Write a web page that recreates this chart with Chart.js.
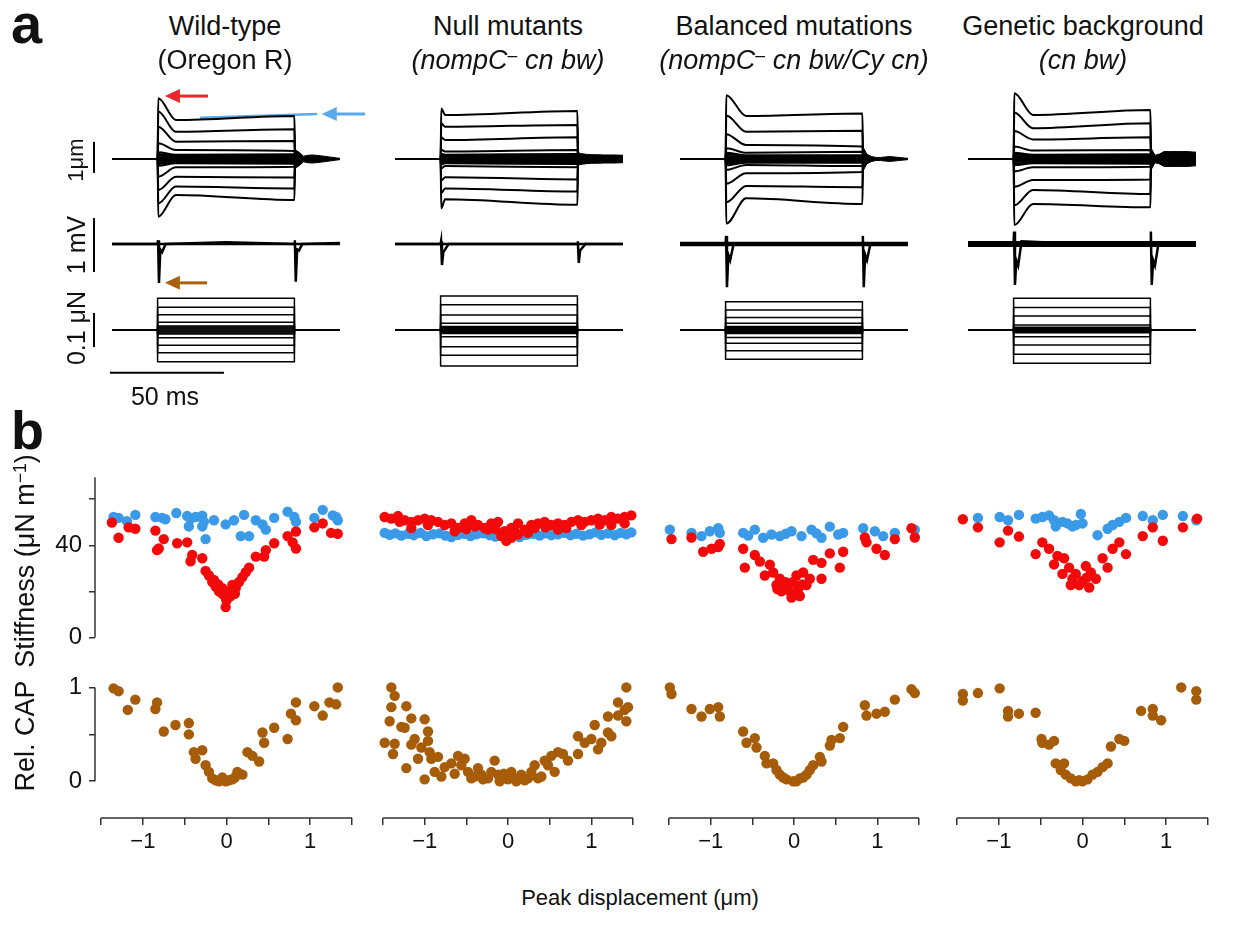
<!DOCTYPE html>
<html>
<head>
<meta charset="utf-8">
<script src="https://cdn.jsdelivr.net/npm/chart.js@4.4.1/dist/chart.umd.min.js"></script>
<style>
  body { margin: 0; background: #fff; font-family: 'Liberation Sans', Arial, sans-serif; }
  #fig { position: relative; width: 1235px; height: 927px; overflow: hidden; background: #fff; }
  #fig canvas { position: absolute; }
  .t { position: absolute; white-space: nowrap; color: #111; line-height: 1; transform: translate(-50%, -50%); }
  .rot { transform: translate(-50%, -50%) rotate(-90deg); }
  .it { font-style: italic; }
  sup { font-size: 65%; vertical-align: 0.45em; line-height: 0; }
  .lbl { position: absolute; font-weight: bold; line-height: 1; color: #111; }
</style>
</head>
<body>
<div id="fig"></div>
<script>
// ---------- panel a: column headers ----------
const colTitles = ['Wild-type', 'Null mutants', 'Balanced mutations', 'Genetic background'];
const colSubtitles = ['(Oregon R)', '(nompC<sup>–</sup> cn bw)', '(nompC<sup>–</sup> cn bw/Cy cn)', '(cn bw)'];

// ---------- panel a: traces (time in ms, displacement in um, voltage in mV, force in uN) ----------
const stepOn = 20, stepOff = 80, traceEnd = 100;
const earlyTime = [28, 22, 29, 28.5];
const dispPeak = [
  [1.96, 1.53, 1.04, 0.51, 0.22, 0.16, 0.11, 0.06, 0.02, -0.02, -0.06, -0.11, -0.16, -0.22, -0.57, -1.00, -1.43, -1.86],
  [1.63, 1.15, 0.70, 0.30, 0.17, 0.13, 0.09, 0.05, 0.02, -0.02, -0.05, -0.09, -0.13, -0.17, -0.30, -0.70, -1.10, -1.59],
  [2.06, 1.40, 0.80, 0.35, 0.20, 0.15, 0.10, 0.05, 0.02, -0.02, -0.05, -0.10, -0.15, -0.20, -0.35, -0.80, -1.40, -2.08],
  [2.12, 1.50, 0.90, 0.40, 0.20, 0.15, 0.10, 0.05, 0.02, -0.02, -0.05, -0.10, -0.15, -0.20, -0.40, -0.90, -1.50, -2.13]
];
const dispEarly = [
  [1.26, 0.88, 0.56, 0.29, 0.14, 0.11, 0.07, 0.04, 0.01, -0.01, -0.04, -0.07, -0.11, -0.14, -0.27, -0.57, -0.89, -1.16],
  [1.42, 1.04, 0.61, 0.24, 0.14, 0.11, 0.07, 0.04, 0.01, -0.01, -0.04, -0.07, -0.11, -0.14, -0.23, -0.59, -0.95, -1.30],
  [1.39, 0.88, 0.45, 0.20, 0.12, 0.09, 0.06, 0.03, 0.01, -0.01, -0.03, -0.06, -0.09, -0.12, -0.19, -0.46, -0.87, -1.27],
  [1.42, 0.99, 0.63, 0.27, 0.14, 0.11, 0.07, 0.04, 0.01, -0.01, -0.04, -0.07, -0.11, -0.14, -0.27, -0.68, -1.00, -1.45]
];
const dispFinal = [
  [1.39, 0.96, 0.58, 0.26, 0.15, 0.12, 0.08, 0.04, 0.01, -0.01, -0.04, -0.08, -0.12, -0.15, -0.25, -0.60, -0.95, -1.32],
  [1.55, 1.10, 0.70, 0.29, 0.16, 0.13, 0.09, 0.05, 0.02, -0.02, -0.05, -0.09, -0.13, -0.16, -0.27, -0.66, -1.05, -1.48],
  [1.47, 0.91, 0.40, 0.23, 0.12, 0.09, 0.06, 0.03, 0.01, -0.01, -0.03, -0.06, -0.09, -0.12, -0.23, -0.42, -0.91, -1.45],
  [1.58, 1.15, 0.70, 0.29, 0.15, 0.12, 0.08, 0.04, 0.01, -0.01, -0.04, -0.08, -0.12, -0.15, -0.25, -0.66, -1.13, -1.56]
];
// ringing after the step (half width of the envelope)
const ringTime = [80.3, 82, 84, 86, 88, 92, 96, 100];
const ringHalf = [
  [0.30, 0.22, 0.09, 0.12, 0.13, 0.10, 0.06, 0.02],
  [0.20, 0.17, 0.15, 0.14, 0.14, 0.13, 0.13, 0.12],
  [0.38, 0.15, 0.08, 0.05, 0.05, 0.08, 0.05, 0.02],
  [0.35, 0.12, 0.16, 0.24, 0.24, 0.24, 0.24, 0.22]
];
const voltTime = [0, 20, 20.2, 20.6, 21.2, 22, 23.5, 50, 80, 80.2, 80.6, 81.2, 82, 83.5, 100];
const voltVals = [
  [0, 0, 0.07, -0.72, -0.10, -0.15, 0, 0.03, 0, 0.07, -0.70, -0.10, -0.12, 0, 0.02],
  [0, 0, 0.05, -0.39, -0.15, -0.10, 0, 0, 0, 0.05, -0.35, -0.12, -0.08, 0, 0],
  [0, 0, 0.15, -0.80, -0.20, -0.30, 0, 0, 0, 0.15, -0.80, -0.20, -0.30, 0, 0],
  [0, 0, 0.23, -0.76, -0.30, -0.40, 0.05, 0, 0, 0.23, -0.76, -0.30, -0.40, 0, 0]
];
const forceLevels = [
  [0.093, 0.067, 0.045, 0.023, 0.012, 0.009, 0.006, 0.003, 0, -0.003, -0.006, -0.009, -0.012, -0.023, -0.045, -0.067, -0.093],
  [0.100, 0.074, 0.044, 0.020, 0.010, 0.007, 0.005, 0.002, 0, -0.002, -0.005, -0.007, -0.010, -0.020, -0.049, -0.074, -0.106],
  [0.083, 0.059, 0.037, 0.020, 0.010, 0.007, 0.005, 0.002, 0, -0.002, -0.005, -0.007, -0.010, -0.022, -0.039, -0.061, -0.086],
  [0.093, 0.066, 0.041, 0.015, 0.008, 0.006, 0.004, 0.002, 0, -0.002, -0.004, -0.006, -0.008, -0.020, -0.044, -0.071, -0.098]
];

// ---------- panel b: peak displacement (um) vs stiffness (uN/m) / relative CAP ----------
const wtRed = [[-1.37,49.9],[-1.29,43.3],[-1.17,47.8],[-1.09,47.2],[-0.85,46.4],[-0.75,42.7],[-0.81,38.6],[-0.83,37.9],
  [-0.59,40.9],[-0.47,41.3],[-0.41,35.8],[-0.43,33.1],[-0.29,34.4],[-0.25,28.9],[-0.21,26.9],[-0.17,24.1],[-0.13,22.1],
  [-0.09,20.0],[-0.05,21.4],[-0.01,17.3],[-0.01,13.2],[0.03,20.0],[0.07,22.8],[0.11,21.4],[0.15,24.1],[0.19,26.2],
  [0.23,28.3],[0.27,30.3],[0.35,35.1],[0.45,35.1],[0.47,37.9],[0.57,40.9],[0.73,44.0],[0.83,46.0],[0.83,38.6],
  [0.79,41.3],[1.05,47.8],[1.15,49.5],[1.25,45.4],[1.33,45.0],[-0.15,25.0],[-0.10,23.0],[0.05,18.0],[0.00,16.0],
  [0.10,19.0],[-0.05,19.0]];
const wtBlue = [[-1.35,52.3],[-1.29,51.9],[-1.19,50.5],[-1.09,53.2],[-0.85,52.3],[-0.77,51.9],[-0.73,51.3],[-0.60,54.0],
  [-0.47,52.7],[-0.43,51.6],[-0.37,52.3],[-0.45,48.2],[-0.29,52.9],[-0.27,50.2],[-0.29,48.2],[-0.15,50.9],[-0.25,42.7],
  [-0.01,49.1],[0.09,50.9],[0.21,53.2],[0.17,44.0],[0.27,44.0],[0.35,50.9],[0.43,49.1],[0.47,46.8],[0.57,51.9],
  [0.73,54.6],[0.81,52.3],[0.83,50.2],[1.05,51.9],[1.15,55.4],[1.27,53.0],[1.33,50.9],[1.31,52.3]];
const wtCap = [[-1.35,0.99],[-1.29,0.96],[-1.09,0.87],[-1.18,0.76],[-0.83,0.84],[-0.85,0.77],[-0.75,0.53],[-0.61,0.60],
  [-0.45,0.62],[-0.45,0.50],[-0.39,0.31],[-0.29,0.33],[-0.37,0.24],[-0.25,0.17],[-0.21,0.10],[-0.17,0.03],[-0.09,0.00],
  [-0.01,0.00],[0.07,0.02],[0.13,0.10],[0.19,0.07],[0.25,0.31],[0.31,0.27],[0.39,0.21],[0.43,0.52],[0.45,0.41],
  [0.57,0.57],[0.73,0.45],[0.83,0.84],[0.77,0.72],[0.83,0.65],[1.05,0.80],[1.15,0.70],[1.23,0.84],[1.31,0.82],[1.33,1.00],
  [-0.13,0.01],[0.03,0.01],[-0.05,0.04],[0.10,0.04]];

const nullRed = [[-1.48,52.3],[-1.40,51.6],[-1.32,52.7],[-1.24,50.9],[-1.16,50.2],[-1.08,50.9],[-1.00,51.6],[-0.92,50.9],
  [-0.84,50.2],[-0.76,48.8],[-0.68,49.5],[-0.60,47.5],[-0.52,49.5],[-0.44,50.9],[-0.36,48.8],[-0.28,47.5],[-0.20,49.5],
  [-0.12,50.2],[-0.04,46.1],[0.04,47.5],[0.12,49.5],[0.20,46.8],[0.28,48.8],[0.36,49.5],[0.44,50.2],[0.52,48.8],
  [0.60,49.5],[0.68,48.8],[0.76,50.2],[0.84,50.9],[0.92,50.2],[1.00,50.9],[1.08,51.6],[1.16,50.9],[1.24,52.3],
  [1.32,51.6],[1.40,52.3],[1.48,53.0],[-1.16,47.5],[-0.96,48.8],[-0.64,46.1],[-0.40,48.2],[-0.24,46.8],[-0.08,44.0],
  [-0.02,41.9],[0.04,43.3],[0.12,44.7],[0.24,45.4],[0.32,47.5],[0.60,46.8],[0.88,48.8],[1.24,48.8],[1.40,49.5],
  [-1.30,50.2],[-0.50,47.0],[0.00,45.0],[0.08,46.0],[-0.15,47.0],[0.45,47.8],[0.70,47.5],[1.10,49.0]];
const nullBlue = [[-1.48,45.4],[-1.42,44.6],[-1.35,45.2],[-1.28,44.2],[-1.20,45.0],[-1.13,44.4],[-1.05,45.4],[-0.98,44.0],
  [-0.90,44.8],[-0.82,45.2],[-0.75,44.2],[-0.68,43.6],[-0.60,44.6],[-0.52,45.0],[-0.45,44.0],[-0.38,44.8],[-0.30,45.2],
  [-0.22,44.4],[-0.15,43.8],[-0.08,44.6],[0.00,43.4],[0.07,44.2],[0.14,43.6],[0.22,44.6],[0.30,45.0],[0.38,44.2],
  [0.45,45.2],[0.52,44.4],[0.60,44.8],[0.68,45.4],[0.75,44.4],[0.82,45.0],[0.90,44.2],[0.98,44.8],[1.05,45.6],
  [1.12,44.6],[1.20,45.2],[1.28,44.4],[1.35,45.4],[1.42,44.8],[1.48,45.6]];
const nullCap = [[-1.40,1.00],[-1.36,0.91],[-1.40,0.79],[-1.22,0.80],[-1.42,0.64],[-1.16,0.67],[-1.00,0.66],[-1.28,0.58],
  [-1.24,0.57],[-1.48,0.41],[-1.36,0.40],[-1.38,0.29],[-1.22,0.14],[-1.16,0.39],[-1.12,0.45],[-1.04,0.36],[-0.96,0.53],
  [-0.96,0.43],[-0.94,0.31],[-1.08,0.24],[-0.92,0.24],[-0.84,0.26],[-1.00,0.02],[-0.88,0.10],[-0.76,0.15],[-0.68,0.19],
  [-0.60,0.27],[-0.56,0.17],[-0.48,0.10],[-0.44,0.03],[-0.52,0.24],[-0.36,0.14],[-0.32,0.07],[-0.24,0.03],[-0.16,0.22],
  [-0.20,0.10],[-0.12,0.07],[-0.04,0.03],[0.04,0.10],[0.08,0.03],[0.16,0.07],[0.24,0.03],[0.28,0.10],[0.36,0.03],
  [0.32,0.17],[0.44,0.22],[0.48,0.17],[0.52,0.27],[0.60,0.31],[0.66,0.29],[0.72,0.22],[0.84,0.29],[0.84,0.48],
  [0.92,0.41],[1.00,0.45],[1.04,0.60],[1.08,0.34],[1.12,0.41],[1.20,0.52],[1.24,0.48],[1.20,0.69],[1.32,0.70],
  [1.32,0.84],[1.40,0.76],[1.42,0.64],[1.44,0.79],[1.42,1.00],[-0.30,0.02],[-0.10,0.00],[0.00,0.02],[0.10,0.00],
  [0.20,0.01],[-0.40,0.05],[0.05,0.05],[-0.05,0.08],[0.40,0.05],[-0.64,0.08],[-0.80,0.05],[0.56,0.10]];

const balRed = [[-1.47,42.7],[-1.23,43.4],[-1.09,37.2],[-0.99,38.5],[-0.89,40.6],[-0.91,39.2],[-0.61,38.5],[-0.59,30.3],
  [-0.47,35.8],[-0.41,33.0],[-0.35,26.9],[-0.29,31.6],[-0.25,28.2],[-0.21,22.8],[-0.17,25.5],[-0.09,22.8],[-0.03,17.3],
  [-0.01,24.1],[0.03,26.9],[0.11,28.2],[0.15,22.8],[0.19,25.5],[0.23,33.7],[0.33,32.4],[0.33,25.5],[0.43,36.5],
  [0.55,30.3],[0.59,37.2],[0.85,43.4],[0.87,41.3],[0.99,38.5],[1.09,35.8],[1.21,42.7],[1.41,47.4],[1.45,43.4],
  [-0.15,20.0],[-0.05,20.0],[0.05,21.0],[0.00,19.0],[-0.10,24.0],[0.10,23.0],[-0.20,21.0],[0.07,18.0]];
const balBlue = [[-1.49,46.8],[-1.23,45.4],[-1.11,44.0],[-1.01,46.1],[-0.91,47.4],[-0.89,45.4],[-0.61,45.4],[-0.47,46.8],
  [-0.37,43.3],[-0.27,44.7],[-0.17,44.0],[-0.03,46.1],[0.09,44.0],[0.21,46.8],[0.33,43.3],[0.43,48.1],[0.53,44.7],
  [0.59,45.4],[0.83,47.4],[0.97,46.1],[1.07,44.0],[1.21,45.4],[1.45,46.8],[-0.55,44.2],[-0.10,45.0],[0.27,45.2]];
const balCap = [[-1.49,1.00],[-1.47,0.93],[-1.23,0.77],[-1.11,0.69],[-1.01,0.77],[-0.91,0.79],[-0.89,0.69],[-0.61,0.53],
  [-0.57,0.41],[-0.47,0.46],[-0.45,0.36],[-0.35,0.27],[-0.33,0.19],[-0.25,0.19],[-0.21,0.12],[-0.17,0.07],[-0.09,0.02],
  [-0.01,0.00],[0.07,0.03],[0.15,0.07],[0.19,0.12],[0.23,0.17],[0.31,0.26],[0.33,0.21],[0.43,0.38],[0.45,0.44],
  [0.55,0.46],[0.59,0.58],[0.85,0.81],[0.87,0.70],[0.99,0.72],[1.09,0.74],[1.21,0.87],[1.41,0.98],[1.45,0.94],
  [-0.13,0.04],[0.03,0.00],[0.11,0.04]];

const bgRed = [[-1.43,51.3],[-1.25,47.8],[-0.99,41.3],[-0.89,46.4],[-0.76,43.8],[-0.56,36.2],[-0.48,41.3],[-0.40,38.5],
  [-0.34,31.7],[-0.30,35.4],[-0.22,34.4],[-0.24,27.6],[-0.16,30.3],[-0.14,22.8],[-0.08,27.6],[-0.04,22.8],[0.04,31.0],
  [0.08,21.7],[0.10,28.2],[0.16,25.5],[0.24,34.4],[0.30,30.3],[0.36,38.5],[0.44,41.3],[0.52,36.2],[0.72,44.0],
  [0.84,47.8],[0.96,42.0],[1.20,47.8],[1.37,51.6],[-0.12,25.5],[0.00,24.5],[0.05,26.0]];
const bgBlue = [[-1.25,51.9],[-0.99,52.3],[-0.89,50.9],[-0.76,53.2],[-0.56,51.6],[-0.48,52.3],[-0.40,53.0],[-0.34,50.9],
  [-0.32,48.2],[-0.24,50.2],[-0.18,49.5],[-0.12,48.2],[-0.08,48.8],[-0.02,53.6],[0.00,49.5],[0.18,44.4],[0.30,47.2],
  [0.36,48.8],[0.44,50.2],[0.52,51.9],[0.72,52.7],[0.84,50.9],[0.96,53.2],[1.20,52.7],[1.36,50.9]];
const bgCap = [[-1.43,0.93],[-1.43,0.86],[-1.25,0.94],[-0.99,0.99],[-0.89,0.75],[-0.89,0.69],[-0.76,0.72],[-0.56,0.73],
  [-0.49,0.45],[-0.48,0.41],[-0.40,0.39],[-0.34,0.43],[-0.32,0.19],[-0.22,0.19],[-0.20,0.07],[-0.14,0.03],[-0.08,0.00],
  [0.00,0.00],[0.06,0.02],[0.12,0.07],[0.18,0.10],[0.24,0.15],[0.30,0.19],[0.34,0.37],[0.44,0.45],[0.50,0.43],
  [0.70,0.75],[0.84,0.77],[0.84,0.70],[0.94,0.65],[1.18,1.00],[1.36,0.96],[1.36,0.87],[-0.26,0.12],[-0.04,0.01]];

const redSets = [wtRed, nullRed, balRed, bgRed];
const blueSets = [wtBlue, nullBlue, balBlue, bgBlue];
const capSets = [wtCap, nullCap, balCap, bgCap];

const xTicks = [-1.5, -1, -0.5, 0, 0.5, 1, 1.5];
const stiffTicks = [0, 20, 40, 60];
const capTicks = [0, 0.5, 1];

// ---------- drawing ----------
Chart.defaults.font.family = "'Liberation Sans', Arial, sans-serif";
Chart.defaults.color = '#111';
Chart.defaults.animation = false;

const RED = '#f20a0a', BLUE = '#3a9ae8', BROWN = '#a65c08';
const fig = document.getElementById('fig');

function addText(html, x, y, size, cls) {
  const d = document.createElement('div');
  d.className = 't ' + (cls || '');
  d.style.left = x + 'px';
  d.style.top = y + 'px';
  d.style.fontSize = size + 'px';
  d.innerHTML = html;
  fig.appendChild(d);
}

function addCanvas(left, top, w, h) {
  const cv = document.createElement('canvas');
  cv.width = w; cv.height = h;
  cv.style.left = left + 'px';
  cv.style.top = top + 'px';
  cv.style.width = w + 'px';
  cv.style.height = h + 'px';
  fig.appendChild(cv);
  return cv.getContext('2d');
}

// axis spines that only cover part of a scale
const spines = {
  id: 'spines',
  afterDatasetsDraw(chart, args, opts) {
    const ctx = chart.ctx, area = chart.chartArea;
    ctx.save();
    ctx.strokeStyle = '#333';
    ctx.lineWidth = 1.5;
    (opts.lines || []).forEach(s => {
      const sc = chart.scales[s.scale];
      ctx.beginPath();
      if (s.axis === 'y') {
        ctx.moveTo(area.left, sc.getPixelForValue(s.from));
        ctx.lineTo(area.left, sc.getPixelForValue(s.to));
      } else {
        ctx.moveTo(sc.getPixelForValue(s.from), area.bottom);
        ctx.lineTo(sc.getPixelForValue(s.to), area.bottom);
      }
      ctx.stroke();
    });
    ctx.restore();
  }
};

// horizontal arrows pointing at the trace features
const arrows = {
  id: 'arrows',
  afterDatasetsDraw(chart, args, opts) {
    const ctx = chart.ctx, xs = chart.scales.x;
    (opts.list || []).forEach(a => {
      const ys = chart.scales[a.scale];
      const x0 = xs.getPixelForValue(a.from), x1 = xs.getPixelForValue(a.to);
      const y = ys.getPixelForValue(a.v);
      ctx.save();
      ctx.strokeStyle = a.color;
      ctx.fillStyle = a.color;
      ctx.lineWidth = 3;
      ctx.beginPath();
      ctx.moveTo(x0, y);
      ctx.lineTo(x1 + 12, y);
      ctx.stroke();
      ctx.beginPath();
      ctx.moveTo(x1, y);
      ctx.lineTo(x1 + 15, y - 7);
      ctx.lineTo(x1 + 15, y + 7);
      ctx.closePath();
      ctx.fill();
      ctx.restore();
    });
  }
};

const traceLeft = [112, 395, 680, 968];
const traceWidth = 228;
const noiseWidth = [2.5, 2.5, 4.5, 6];

for (let c = 0; c < 4; c++) {
  const datasets = [];
  const lineDs = (data, yAxisID, width, extra) => Object.assign({
    data, yAxisID, borderColor: '#000', borderWidth: width, pointRadius: 0,
    clip: false, tension: 0
  }, extra || {});

  // ringing envelope after the step
  datasets.push(lineDs(ringTime.map((t, i) => ({ x: t, y: ringHalf[c][i] })), 'yD', 1,
    { fill: '+1', backgroundColor: '#000' }));
  datasets.push(lineDs(ringTime.map((t, i) => ({ x: t, y: -ringHalf[c][i] })), 'yD', 1));

  // displacement traces
  for (let i = 0; i < dispPeak[c].length; i++) {
    datasets.push(lineDs([
      { x: 0, y: 0 }, { x: stepOn, y: 0 }, { x: stepOn + 0.3, y: dispPeak[c][i] },
      { x: earlyTime[c], y: dispEarly[c][i] }, { x: stepOff, y: dispFinal[c][i] },
      { x: stepOff + 0.3, y: 0 }, { x: traceEnd, y: 0 }
    ], 'yD', 2, { cubicInterpolationMode: 'monotone' }));
  }

  // receptor potential: noisy baseline plus the on/off responses
  datasets.push(lineDs([{ x: 0, y: 0 }, { x: traceEnd, y: 0 }], 'yV', noiseWidth[c]));
  datasets.push(lineDs(voltTime.map((t, i) => ({ x: t, y: voltVals[c][i] })), 'yV', 2.5));

  // force steps
  forceLevels[c].forEach(f => {
    datasets.push(lineDs([
      { x: 0, y: 0 }, { x: stepOn, y: 0 }, { x: stepOn, y: f },
      { x: stepOff, y: f }, { x: stepOff, y: 0 }, { x: traceEnd, y: 0 }
    ], 'yF', 1.5));
  });

  const plugins = [];
  const pluginOpts = { legend: { display: false }, tooltip: { enabled: false } };
  if (c === 0) {
    // blue marker on the steady-state part of the largest trace
    datasets.push(lineDs([{ x: 38.6, y: 1.33 }, { x: 90, y: 1.45 }], 'yD', 2.5, { borderColor: '#5aa9ea' }));
    // scale bars: 1 um, 1 mV, 0.1 uN, 50 ms
    datasets.push(lineDs([{ x: -7.9, y: -0.45 }, { x: -7.9, y: 0.55 }], 'yD', 2));
    datasets.push(lineDs([{ x: -7.9, y: -0.52 }, { x: -7.9, y: 0.48 }], 'yV', 2));
    datasets.push(lineDs([{ x: -7.9, y: -0.05 }, { x: -7.9, y: 0.05 }], 'yF', 2));
    datasets.push(lineDs([{ x: -0.9, y: -0.126 }, { x: 49.1, y: -0.126 }], 'yF', 2));
    plugins.push(arrows);
    pluginOpts.arrows = { list: [
      { scale: 'yD', from: 42.1, to: 23.2, v: 2.03, color: '#e8262b' },
      { scale: 'yD', from: 111, to: 92, v: 1.45, color: '#5aa9ea' },
      { scale: 'yV', from: 41.7, to: 23.2, v: -0.72, color: '#a8620f' }
    ] };
  }

  const ctx = addCanvas(traceLeft[c] - 30, 70, traceWidth + 60, 320);
  new Chart(ctx, {
    type: 'line',
    data: { datasets },
    plugins,
    options: {
      responsive: false,
      layout: { padding: { left: 30, right: 30, top: 10, bottom: 10 } },
      plugins: pluginOpts,
      scales: {
        x: { type: 'linear', min: 0, max: traceEnd, display: false },
        yD: { type: 'linear', min: -7.129, max: 2.548, display: false },
        yV: { type: 'linear', min: -2.519, max: 3.037, display: false },
        yF: { type: 'linear', min: -0.147, max: 0.735, display: false }
      }
    }
  });
}

// ---------- panel b ----------
const plotLeft = [95, 383, 669, 957];
const plotRight = [352, 633, 919, 1208];

function scatterDs(pts, color) {
  return {
    data: pts.map(p => ({ x: p[0], y: p[1] })),
    backgroundColor: color, borderColor: color, borderWidth: 0,
    pointRadius: 5.2, clip: false
  };
}

function yAxis(min, max, ticks, labelled, show) {
  return {
    type: 'linear', min, max, display: show,
    afterFit: s => { s.width = show ? 60 : 0; s.paddingTop = 0; s.paddingBottom = 0; },
    afterBuildTicks: s => { s.ticks = ticks.map(v => ({ value: v })); },
    border: { display: false },
    grid: { drawOnChartArea: false, drawTicks: true, tickLength: 6, color: '#333', lineWidth: 1.5 },
    ticks: { font: { size: 24 }, padding: 7, color: '#111', autoSkip: false,
      callback: v => labelled.includes(v) ? String(v) : '' }
  };
}

for (let c = 0; c < 4; c++) {
  const first = c === 0;
  const xMin = first ? -1.572 : -1.5;
  const w = plotRight[c] - plotLeft[c] + 80;
  const pad = { left: first ? 0 : 60, right: 20, top: 0, bottom: 0 };

  // stiffness
  const ctxS = addCanvas(plotLeft[c] - 60, 455, w, 200);
  new Chart(ctxS, {
    type: 'scatter',
    data: { datasets: [scatterDs(redSets[c], RED), scatterDs(blueSets[c], BLUE)] },
    plugins: [spines],
    options: {
      responsive: false,
      layout: { padding: pad },
      plugins: { legend: { display: false }, tooltip: { enabled: false },
        spines: { lines: first ? [{ axis: 'y', scale: 'y', from: 0, to: 69.5 }] : [] } },
      scales: {
        x: { type: 'linear', min: xMin, max: 1.5, display: false },
        y: yAxis(-5.35, 76.95, stiffTicks, [0, 40], first)
      }
    }
  });

  // relative CAP with shared x axis
  const ctxC = addCanvas(plotLeft[c] - 60, 660, w, 200);
  new Chart(ctxC, {
    type: 'scatter',
    data: { datasets: [scatterDs(capSets[c], BROWN)] },
    plugins: [spines],
    options: {
      responsive: false,
      layout: { padding: pad },
      plugins: { legend: { display: false }, tooltip: { enabled: false },
        spines: { lines: (first ? [{ axis: 'y', scale: 'y', from: 0, to: 1 }] : [])
          .concat([{ axis: 'x', scale: 'x', from: -1.5, to: 1.5 }]) } },
      scales: {
        x: {
          type: 'linear', min: xMin, max: 1.5, position: 'bottom',
          afterFit: s => { s.height = 42; s.paddingLeft = 0; s.paddingRight = 0; },
          afterBuildTicks: s => { s.ticks = xTicks.map(v => ({ value: v })); },
          border: { display: false },
          grid: { drawOnChartArea: false, drawTicks: true, tickLength: 7, color: '#333', lineWidth: 1.5 },
          ticks: { font: { size: 22 }, padding: 4, color: '#111', autoSkip: false, maxRotation: 0,
            callback: v => Number.isInteger(v) ? String(v).replace('-', '\u2212') : '' }
        },
        y: yAxis(-0.392, 1.237, capTicks, [0, 1], first)
      }
    }
  });
}

// ---------- text ----------
const colCenter = [225, 508, 794, 1083];
colTitles.forEach((t, c) => addText(t, colCenter[c], 26, 27));
colSubtitles.forEach((t, c) => addText(t, colCenter[c], 60, 27, c === 0 ? '' : 'it'));

addText('1μm', 76, 160, 22, 'rot');
addText('1 mV', 76, 245, 25, 'rot');
addText('0.1 μN', 76, 328, 25, 'rot');
addText('50 ms', 165, 396, 25);

addText('Stiffness (μN m<sup>−1</sup>)', 25, 561, 27, 'rot');
addText('Rel. CAP', 25, 736, 27, 'rot');
addText('Peak displacement (μm)', 640, 898, 22);

const la = document.createElement('div');
la.className = 'lbl'; la.textContent = 'a';
la.style.cssText += 'left:11px;top:-4px;font-size:56px;';
fig.appendChild(la);
const lb = document.createElement('div');
lb.className = 'lbl'; lb.textContent = 'b';
lb.style.cssText += 'left:11px;top:403px;font-size:54px;';
fig.appendChild(lb);
</script>
</body>
</html>
